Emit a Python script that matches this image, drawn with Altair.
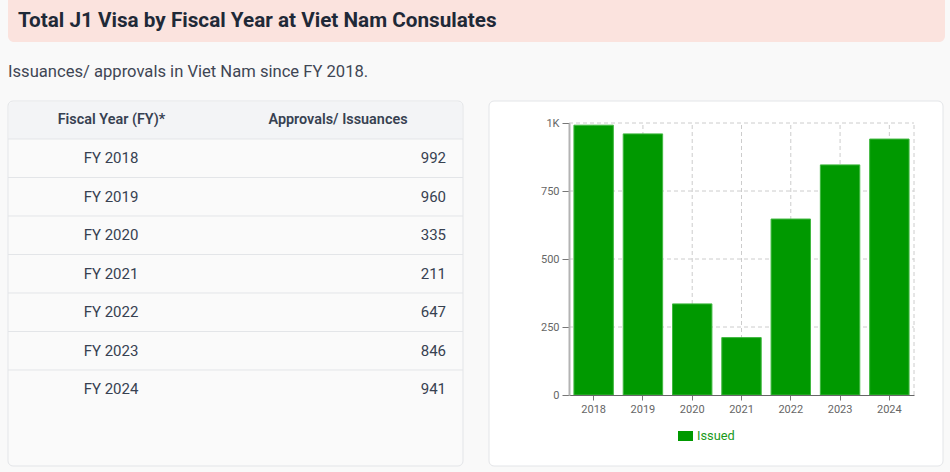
import altair as alt
import pandas as pd

# ---- data ----
years = ["2018", "2019", "2020", "2021", "2022", "2023", "2024"]
issued = [992, 960, 335, 211, 647, 846, 941]
fy_labels = ["FY " + y for y in years]
headers = ["Fiscal Year (FY)*", "Approvals/ Issuances"]
y_ticks = [0, 250, 500, 750, 1000]
series_name = "Issued"
title_text = "Total J1 Visa by Fiscal Year at Viet Nam Consulates"
subtitle_text = "Issuances/ approvals in Viet Nam since FY 2018."

df = pd.DataFrame({"year": years, "fy": fy_labels, "value": issued,
                   "series": [series_name] * len(years)})
ticks_df = pd.DataFrame({"tick": y_ticks[1:]})

# page layout: the bar chart's plot area is the view; everything else sits
# in the padding around it (coordinates below are page pixels)
OX, OY = 569, 123          # plot-area origin on the page
PW, PH = 345, 272          # plot-area size
PAGE_W, PAGE_H = 950, 472

FONT = "Roboto"
TXT = "#374151"
LINE = "#e3e5e8"
GRID = "#cccccc"
one = alt.Data(values=[{}])


def px(x):
    return alt.value(x - OX)


def py(y):
    return alt.value(y - OY)


def box(x, x2, y, y2, **kw):
    return alt.Chart(one).mark_rect(**kw).encode(
        x=px(x), x2=px(x2), y=py(y), y2=py(y2))


def label(text, x, y, **kw):
    return alt.Chart(one).mark_text(text=text, font=FONT, **kw).encode(
        x=px(x), y=py(y))


# ---- page decorations ----
banner = box(8, 945, -8, 42, fill="#fbe3de", cornerRadius=6)
title = label(title_text, 18, 21, fontSize=20.7, fontWeight="bold",
              color="#1f2937", align="left", baseline="middle")
subtitle = label(subtitle_text, 8, 72, fontSize=16.6, color="#3f4654",
                 align="left", baseline="middle")
table_panel = box(8, 463, 101, 466, fill="#fafafa", stroke=LINE,
                  strokeWidth=1, cornerRadius=5)
header_bg = box(9, 462, 102, 139, fill="#f3f4f6",
                cornerRadiusTopLeft=4, cornerRadiusTopRight=4)
chart_panel = box(489, 943, 101, 466, fill="#ffffff", stroke=LINE,
                  strokeWidth=1, cornerRadius=5)
head1 = label(headers[0], 111.5, 120, fontSize=14.4, fontWeight=600,
              color=TXT, align="center", baseline="middle")
head2 = label(headers[1], 338, 120, fontSize=14.4, fontWeight=600,
              color=TXT, align="center", baseline="middle")

# ---- table ----
row_scale = alt.Scale(type="band", domain=fy_labels,
                      range=[139 - OY, 408.5 - OY],
                      paddingInner=0, paddingOuter=0)
sep = alt.Chart(df).mark_rule(color=LINE, strokeWidth=1).encode(
    y=alt.Y("fy:N", scale=row_scale, axis=None, bandPosition=0),
    x=px(8), x2=px(463))
col1 = alt.Chart(df).mark_text(font=FONT, fontSize=15, color=TXT,
                               align="center", baseline="middle").encode(
    y=alt.Y("fy:N", scale=row_scale, axis=None, bandPosition=0.5),
    x=px(111), text="fy:N")
col2 = alt.Chart(df).mark_text(font=FONT, fontSize=15, color=TXT,
                               align="right", baseline="middle").encode(
    y=alt.Y("fy:N", scale=row_scale, axis=None, bandPosition=0.5),
    x=px(446), text=alt.Text("value:Q"))

# ---- bar chart ----
xs = alt.Scale(type="band", domain=years, paddingInner=0.2, paddingOuter=0.1)
ys = alt.Scale(domain=[0, 1000], nice=False, zero=True)
x_axis = alt.Axis(
    title=None, orient="bottom", labelFont=FONT,
    labelFontSize=11, labelColor="#666666", labelAngle=0,
    tickColor="#777777", tickSize=5, domainColor="#666666",
    labelPadding=3, grid=False, zindex=1)

vgrid = alt.Chart(df).mark_rule(color=GRID, strokeDash=[4, 3], strokeWidth=1).encode(
    x=alt.X("year:O", scale=xs, axis=x_axis, bandPosition=0.5),
    y=alt.YDatum(0, scale=ys, axis=None),
    y2=alt.Y2Datum(1000))
edge = alt.Chart(one).mark_rule(color=GRID, strokeDash=[4, 3], strokeWidth=1).encode(
    x=alt.value(PW),
    y=alt.YDatum(0, scale=ys, axis=None),
    y2=alt.Y2Datum(1000))
hgrid = alt.Chart(ticks_df).mark_rule(color=GRID, strokeDash=[4, 3], strokeWidth=1).encode(
    y=alt.Y("tick:Q", scale=ys, axis=None),
    x=alt.value(0), x2=alt.value(PW))

bars = alt.Chart(df).mark_bar(stroke="#40b840", strokeWidth=1).encode(
    x=alt.X("year:O", scale=xs, axis=x_axis),
    y=alt.Y("value:Q", scale=ys, axis=alt.Axis(
        title=None, orient="left", values=y_ticks,
        labelExpr="datum.value >= 1000 ? '1K' : datum.label",
        grid=False, domainColor="#b3b3b3",
        domainWidth=2, tickColor="#777777", tickSize=7, labelFont=FONT,
        labelFontSize=11, labelColor="#666666", labelPadding=3, zindex=1)),
    color=alt.Color("series:N",
                    scale=alt.Scale(domain=[series_name], range=["#009900"]),
                    legend=alt.Legend(
                        title=None, orient="none",
                        legendX=678 - OX, legendY=428.5 - OY,
                        padding=0, symbolType="M-1,-0.667H1V0.667H-1Z",
                        symbolSize=225, symbolStrokeWidth=0, labelFont=FONT,
                        labelFontSize=12.8, labelColor="#1a9a1a",
                        labelOffset=4, zindex=1)))

chart = alt.layer(
    banner, title, subtitle, table_panel, header_bg, chart_panel,
    head1, head2, sep, col1, col2, vgrid, edge, hgrid, bars
).resolve_scale(
    y="independent"
).properties(
    width=PW, height=PH,
    padding={"left": OX, "top": OY,
             "right": PAGE_W - OX - PW, "bottom": PAGE_H - OY - PH},
    autosize=alt.AutoSizeParams(type="none"),
    background="#f9f9f9"
).configure_view(stroke=None)

chart.save("out.html", embed_options={"renderer": "svg", "actions": False})
